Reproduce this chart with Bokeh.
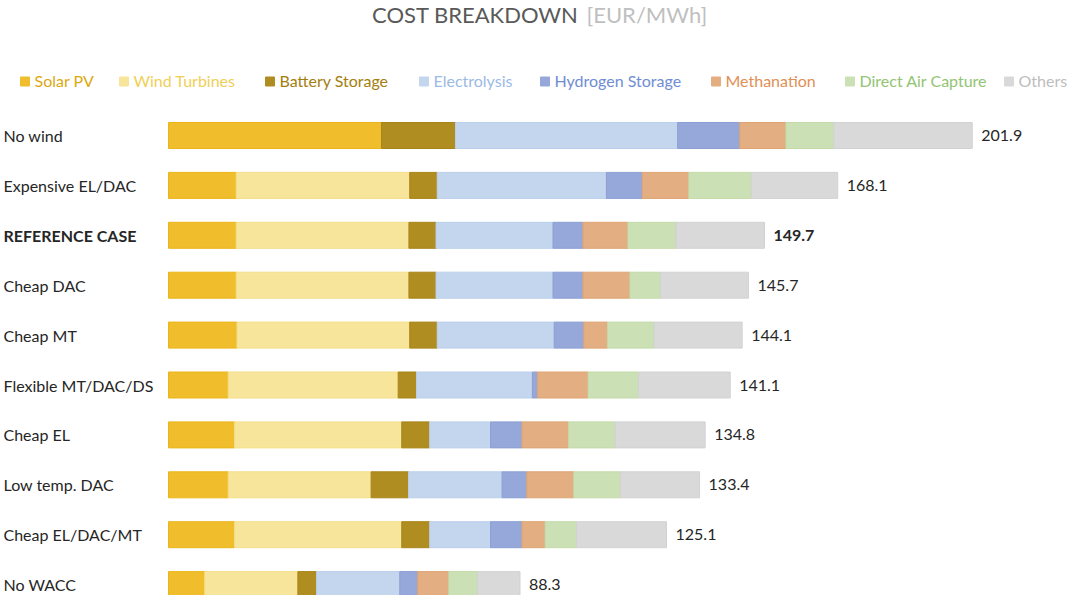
from bokeh.plotting import figure
from bokeh.models import Range1d, ColumnDataSource
from bokeh.embed import file_html
from bokeh.resources import INLINE
from bokeh.core.properties import value

# ---------------- data ----------------
categories = ["No wind", "Expensive EL/DAC", "REFERENCE CASE", "Cheap DAC", "Cheap MT",
              "Flexible MT/DAC/DS", "Cheap EL", "Low temp. DAC", "Cheap EL/DAC/MT", "No WACC"]
series_names = ["Solar PV", "Wind Turbines", "Battery Storage", "Electrolysis",
                "Hydrogen Storage", "Methanation", "Direct Air Capture", "Others"]
solar_pv = [53.5, 17.0, 17.0, 17.0, 17.2, 15.0, 16.6, 15.0, 16.6, 9.1]
wind_turbines = [0.0, 43.6, 43.4, 43.4, 43.4, 42.7, 42.0, 35.9, 42.0, 23.4]
battery_storage = [18.6, 6.9, 6.8, 6.8, 6.9, 4.6, 7.0, 9.4, 7.0, 4.7]
electrolysis = [55.8, 42.5, 29.4, 29.4, 29.4, 29.1, 15.3, 23.5, 15.3, 20.9]
hydrogen_storage = [15.6, 9.0, 7.5, 7.5, 7.4, 1.3, 7.9, 6.2, 7.9, 4.5]
methanation = [11.6, 11.7, 11.3, 11.8, 6.0, 12.7, 11.7, 11.8, 5.8, 7.8]
direct_air_capture = [12.0, 15.7, 12.1, 7.7, 11.7, 12.7, 11.7, 11.7, 7.9, 7.2]
others = [34.8, 21.7, 22.2, 22.1, 22.1, 23.0, 22.6, 19.9, 22.6, 10.7]
totals = [201.9, 168.1, 149.7, 145.7, 144.1, 141.1, 134.8, 133.4, 125.1, 88.3]
highlight = "REFERENCE CASE"

# ---------------- styles / layout ----------------
bar_colors = ["#F0BE2C", "#F7E59B", "#B08D20", "#C4D6EE", "#95A8D9", "#E3AE82", "#CCE0B5", "#D9D9D9"]
line_colors = ["#EBB51A", "#F3DE88", "#A88519", "#BACFEA", "#8B9FD5", "#DFA472", "#C3DAA8", "#D2D2D2"]
legend_text_colors = ["#DDA90F", "#F0CF55", "#A47E0E", "#9CBAE4", "#6F8DD3", "#E08F55", "#92C473", "#BDBDBD"]
legend_px = [20, 119, 265, 419, 540, 711, 845, 1004]   # left edge of each legend square (px)

W, H = 1068, 595
LEFT = 168          # px where value 0 sits
SCALE = 3.981       # px per EUR/MWh
ROW0, ROWSTEP, BAR_H = 135, 49.9, 26
FONT = value("Lato")

x0 = -LEFT / SCALE
p = figure(width=W, height=H, output_backend="svg", toolbar_location=None,
           x_range=Range1d(x0, (W - LEFT) / SCALE), y_range=Range1d(H, 0),
           x_axis_location=None, y_axis_location=None, min_border=0,
           outline_line_color=None, background_fill_color="white")
p.grid.visible = False

ys = [ROW0 + i * ROWSTEP for i in range(len(categories))]
keys = ["s%d" % i for i in range(len(series_names))]
data = dict(y=ys, cat=categories, total=totals)
for k, arr in zip(keys, [solar_pv, wind_turbines, battery_storage, electrolysis,
                         hydrogen_storage, methanation, direct_air_capture, others]):
    data[k] = arr
src = ColumnDataSource(data)
p.hbar_stack(keys, y="y", height=BAR_H, color=bar_colors, line_color=line_colors,
             line_width=1, source=src)

# category labels and totals
norm_idx = [i for i, c in enumerate(categories) if c != highlight]
bold_idx = [i for i, c in enumerate(categories) if c == highlight]
for idx, style in ((norm_idx, "normal"), (bold_idx, "bold")):
    s = ColumnDataSource(dict(y=[ys[i] for i in idx], cat=[categories[i] for i in idx],
                              total=[totals[i] for i in idx],
                              tlab=["%.1f" % totals[i] for i in idx],
                              xl=[x0] * len(idx)))
    p.text(x="xl", y="y", text="cat", source=s, text_font=FONT, text_font_size="16px",
           text_font_style=style, text_color="#262626", text_baseline="middle",
           text_align="left", x_offset=3)
    p.text(x="total", y="y", text="tlab", source=s, text_font=FONT, text_font_size="16px",
           text_font_style=style, text_color="#262626", text_baseline="middle",
           text_align="left", x_offset=9)

# title
p.text(x=[x0], y=[14], text=["COST BREAKDOWN"], text_font=FONT, text_font_size="22px",
       text_color="#595959", text_baseline="middle", text_align="right", x_offset=578)
p.text(x=[x0], y=[14], text=["[EUR/MWh]"], text_font=FONT, text_font_size="22px",
       text_color="#BFBFBF", text_baseline="middle", text_align="left", x_offset=586)

# custom legend (coloured labels)
for name, bc, tc, px in zip(series_names, bar_colors, legend_text_colors, legend_px):
    p.scatter(x=[x0 + (px + 4.5) / SCALE], y=[81], marker="square", size=9,
              fill_color=bc, line_color=bc)
    p.text(x=[x0], y=[80], text=[name], text_font=FONT, text_font_size="16px",
           text_color=tc, text_baseline="middle", text_align="left", x_offset=px + 14)

open("out.html", "w").write(file_html(p, INLINE))
